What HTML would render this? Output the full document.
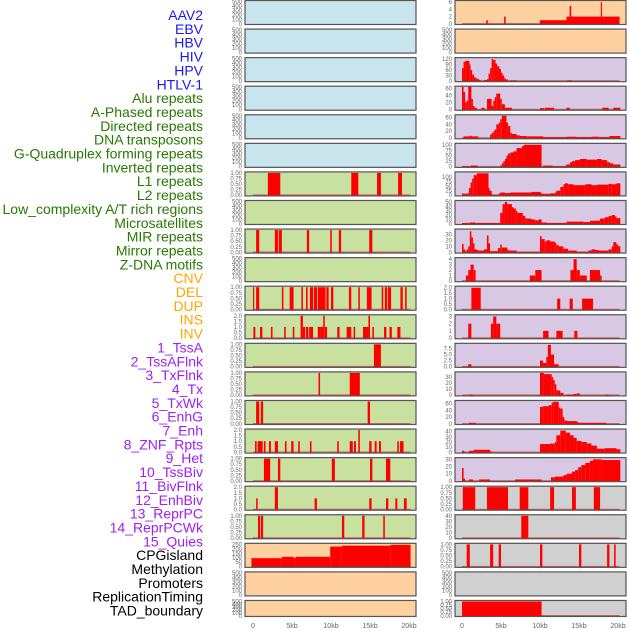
<!DOCTYPE html>
<html><head><meta charset="utf-8">
<style>
html,body{margin:0;padding:0;background:#fff;}
svg{display:block;font-family:"Liberation Sans",sans-serif;}
.lab{font-size:14px;text-anchor:end;}
.tk{font-size:6px;fill:#666;text-anchor:end;}
.xt{font-size:7px;fill:#666;text-anchor:middle;}
</style></head>
<body>
<svg id="chart" width="630" height="630" viewBox="0 0 630 630" xmlns="http://www.w3.org/2000/svg">
<g id="labels"></g>
<g id="panels"></g>
<g id="xaxis"></g>
</svg>
<script>
// ---- labels ----
const trackLabels = ["AAV2","EBV","HBV","HIV","HPV","HTLV-1","Alu repeats","A-Phased repeats","Directed repeats","DNA transposons","G-Quadruplex forming repeats","Inverted repeats","L1 repeats","L2 repeats","Low_complexity A/T rich regions","Microsatellites","MIR repeats","Mirror repeats","Z-DNA motifs","CNV","DEL","DUP","INS","INV","1_TssA","2_TssAFlnk","3_TxFlnk","4_Tx","5_TxWk","6_EnhG","7_Enh","8_ZNF_Rpts","9_Het","10_TssBiv","11_BivFlnk","12_EnhBiv","13_ReprPC","14_ReprPCWk","15_Quies","CPGisland","Methylation","Promoters","ReplicationTiming","TAD_boundary"];
const labelGroups = [6,13,5,15,5]; // counts per colour group
const labelColors = ["#1a1aee","#267a00","#ffa500","#a020f0","#000000"];

// ---- x axis ----
const xTickKb = [0,5,10,15,20];
const xTickLabels = ["0","5kb","10kb","15kb","20kb"];

// ---- tick label sets ----
const T500 = ["0","100","200","300","400","500"];
const T1 = ["0.00","0.25","0.50","0.75","1.00"];
const T2 = ["0.0","0.5","1.0","1.5","2.0"];
const leftTicks = [T500,T500,T500,T500,T500,T500,T1,T500,T1,T500,T1,T2,T1,T1,T1,T2,T1,T2,T1,["0","50","100","150","200","250"],T500,T500];
const rightTicks = [["0","2","4","6"],T500,["0","30","60","90","120"],["0","20","40","60"],["0","20","40","60"],["0","25","50","75","100"],["0","25","50","75","100"],["0","10","20","30","40","50"],["0","10","20","30"],["0","1","2","3","4"],T2,["0","1","2","3"],["0.0","2.5","5.0","7.5"],["0","10","20","30"],["0","20","40","60"],["0","10","20","30","40"],["0","10","20","30"],T1,["0","10","20","30","40"],T1,T500,T1];
const leftMax = [500,500,500,500,500,500,1,500,1,500,1,2,1,1,1,2,1,2,1,250,500,500];
const rightMax = [6.2,500,122,63,65,102,122,51,37,4.1,2.05,3.1,9.2,37,66,43,31,1,40,1,500,1];
const leftColors = ["#c8e4ec","#c8e4ec","#c8e4ec","#c8e4ec","#c8e4ec","#c8e4ec","#c8e0a0","#c8e0a0","#c8e0a0","#c8e0a0","#c8e0a0","#c8e0a0","#c8e0a0","#c8e0a0","#c8e0a0","#c8e0a0","#c8e0a0","#c8e0a0","#c8e0a0","#ffd0a0","#ffd0a0","#ffd0a0"];
const rightColors = ["#ffd0a0","#ffd0a0","#d8c8e4","#d8c8e4","#d8c8e4","#d8c8e4","#d8c8e4","#d8c8e4","#d8c8e4","#d8c8e4","#d8c8e4","#d8c8e4","#d8c8e4","#d8c8e4","#d8c8e4","#d8c8e4","#d8c8e4","#d0d0d0","#d0d0d0","#d0d0d0","#d0d0d0","#d0d0d0"];

// ---- left series: [startKb, endKb, value] ----
const L7 = [[1.9,3.5,1],[12.6,13.5,1],[15.9,16.4,1],[18.6,19.1,1]];
const L9 = [[0.4,0.8,1],[2.8,3.2,1],[3.3,3.7,1],[6.9,7.2,1],[9.9,10.1,1],[11.0,11.3,1],[14.9,15.3,1]];
const L11 = [[0,0.15,1],[0.4,0.8,1],[3.7,3.9,1],[4.7,5.2,1],[6.2,6.4,1],[6.8,7.0,1],[7.3,7.7,1],[7.8,8.2,1],[8.3,9.3,1],[9.4,9.7,1],[10.0,10.3,1],[12.3,12.6,1],[13.5,13.7,1],[14.6,15.2,1],[16.5,16.7,1],[16.9,17.2,1],[17.3,17.7,1],[18.9,19.2,1],[19.5,19.7,1]];
const L12 = [[0.05,0.3,1],[0.9,1.2,1],[2.3,2.5,1],[4.0,4.2,1],[5.1,5.3,1],[6.1,6.4,2],[6.4,6.7,1],[6.8,7.1,1],[7.2,7.7,1],[8.3,8.6,1],[8.6,9.0,1],[9.0,9.2,2],[9.2,9.5,1],[10.8,11.1,1],[12.0,12.6,1],[12.9,13.1,1],[14.1,14.8,1],[14.8,15.0,2],[15.3,15.5,1],[16.8,17.1,1],[17.5,17.8,1],[18.5,18.9,1]];
const L13 = [[15.5,16.4,1]];
const L14 = [[8.4,8.6,1],[12.4,13.7,1]];
const L15 = [[0.4,0.8,1],[1.0,1.3,1],[14.7,15.0,1]];
const L16 = [[0.26,0.47,1],[0.6,1.24,1],[1.4,1.6,1],[2.05,2.3,1],[2.8,3.2,1],[4.1,4.3,1],[4.9,5.2,1],[5.8,6.0,1],[7.3,7.5,1],[10.8,11.0,1],[12.4,12.8,1],[12.95,13.2,1],[13.5,13.7,2],[14.9,15.2,1],[15.6,15.85,1],[16.15,16.4,1],[18.5,18.7,1],[18.85,19.3,1]];
const L17 = [[1.4,2.2,1],[3.2,3.5,1],[10.1,10.5,1],[15.0,15.3,1],[17.05,17.6,1]];
const L18 = [[0.4,0.6,1],[2.8,3.2,2],[7.9,8.2,1],[14.9,15.2,1],[17.05,17.35,1],[18.25,18.5,1],[19.35,19.7,1]];
const L19 = [[0.64,0.9,1],[1.0,1.3,1],[11.4,11.7,1],[14.0,14.3,1],[16.7,16.9,1]];
const L20 = [[-0.2,3.7,95],[3.7,5.2,110],[5.2,5.5,100],[5.5,9.9,110],[9.9,11.4,225],[11.4,17.6,235],[17.6,20.2,245]];

// ---- right series ----
const R1 = [[3.1,3.3,1],[5.4,5.6,2],[10.0,13.4,1],[13.4,20.2,2],[13.8,14.0,5],[17.8,17.95,6]];
const R3 = [[0,0.2,70],[0.2,0.4,105],[0.4,0.95,110],[0.95,1.1,90],[1.1,1.3,60],[1.3,1.55,35],[1.55,1.75,20],[1.75,1.95,15],[1.95,2.2,10],[2.2,2.4,5],[2.8,3.2,5],[3.2,3.4,10],[3.4,3.6,40],[3.6,3.8,70],[3.8,4.0,120],[4.0,4.3,115],[4.3,4.5,95],[4.5,4.8,80],[4.8,5.0,65],[5.0,5.2,45],[5.2,5.4,30],[5.4,5.6,15],[5.6,5.9,8],[6.2,7.0,3],[13.5,14.1,3]];
const R4 = [[0,0.2,65],[0.2,0.4,50],[0.4,0.6,20],[0.6,0.8,25],[0.8,1.2,65],[1.2,1.4,30],[1.4,1.6,10],[1.6,1.9,5],[2.5,2.9,5],[3.2,3.8,30],[3.8,4.0,10],[4.0,4.2,25],[4.2,4.4,35],[4.4,4.9,45],[4.9,5.1,30],[5.1,5.5,15],[5.5,6.4,5],[10.0,10.5,4],[10.6,11.8,5],[13.4,13.8,5],[18.0,18.8,5],[19.4,20.3,5]];
const R5 = [[0.2,2.1,5],[1.0,1.2,7],[3.6,3.8,10],[3.8,4.0,15],[4.0,4.2,20],[4.2,4.4,25],[4.4,4.7,40],[4.7,4.9,45],[4.9,5.1,55],[5.1,5.7,65],[5.7,5.9,45],[5.9,6.2,35],[6.2,6.4,15],[6.4,7.0,12],[7.0,7.4,8],[7.4,8.3,6],[8.3,10.4,5],[10.4,13.4,3],[13.4,14.7,4],[14.7,16.6,3],[16.6,17.5,4],[17.5,18.9,3],[18.9,20.3,6]];
const R6 = [[0,1.0,2],[1.1,2.0,5],[4.9,5.1,5],[5.1,5.3,15],[5.3,5.5,25],[5.5,5.7,35],[5.7,5.9,50],[5.9,6.2,60],[6.2,6.6,65],[6.6,7.0,70],[7.0,7.7,85],[7.7,7.95,95],[7.95,10.2,100],[10.4,11.6,5],[11.6,13.2,2],[13.2,13.4,5],[13.4,13.85,10],[13.85,14.1,20],[14.1,14.5,25],[14.5,15.1,30],[15.1,16.0,35],[16.0,17.3,32],[17.3,17.9,35],[17.9,18.6,30],[18.6,19.0,20],[19.0,19.4,15],[19.4,20.3,10]];
const R7 = [[0,0.2,10],[0.2,0.6,8],[0.6,0.9,10],[0.9,1.1,40],[1.1,1.3,70],[1.3,1.5,90],[1.5,1.9,110],[1.9,3.4,120],[3.4,3.5,40],[3.5,3.8,25],[3.8,4.0,5],[4.0,4.7,2],[4.7,4.9,10],[4.9,5.5,15],[5.5,6.2,12],[6.2,8.9,15],[8.9,10.0,18],[10.0,10.2,15],[10.2,11.3,8],[11.3,11.9,10],[11.9,12.1,15],[12.1,12.6,25],[12.6,13.0,45],[13.0,13.2,60],[13.2,13.6,65],[13.6,14.3,60],[14.3,15.8,55],[15.8,16.6,60],[16.6,17.3,55],[17.3,18.8,58],[18.8,19.2,62],[19.2,19.8,60],[19.8,20.3,65]];
const R8 = [[0,1.0,2],[1.0,1.7,3],[1.7,4.9,2],[4.9,5.2,25],[5.2,5.5,45],[5.5,5.8,50],[5.8,6.4,45],[6.4,6.6,38],[6.6,6.9,35],[6.9,7.1,30],[7.1,7.8,25],[7.8,8.1,18],[8.1,8.3,13],[8.3,8.9,12],[8.9,9.4,10],[9.4,9.8,8],[9.8,10.2,10],[10.2,10.9,3],[10.9,13.4,2],[13.4,15.6,5],[15.6,16.4,4],[16.4,17.7,7],[17.7,18.3,12],[18.3,18.8,15],[18.8,19.2,18],[19.2,19.6,20],[19.6,19.8,17],[19.8,20.3,13]];
const R9 = [[0,0.2,14],[0.2,0.4,5],[0.4,0.6,2],[0.6,0.8,5],[0.8,1.0,10],[1.0,1.2,35],[1.2,1.4,25],[1.4,1.6,15],[1.6,1.9,5],[1.9,2.1,4],[2.1,2.8,3],[2.8,3.2,5],[3.2,3.4,28],[3.4,3.6,15],[3.6,4.6,2],[4.6,4.9,7],[4.9,5.1,13],[5.1,5.8,8],[5.8,5.9,5],[5.9,7.0,3],[7.0,10.0,1],[10.0,10.2,27],[10.2,10.6,22],[10.6,10.8,18],[10.8,11.3,20],[11.3,11.9,18],[11.9,12.1,16],[12.1,12.4,12],[12.4,13.0,10],[13.0,13.6,6],[13.6,14.7,3],[14.7,16.2,1],[16.2,16.6,3],[16.6,17.05,5],[17.05,17.5,4],[17.5,18.8,3],[18.8,19.2,5],[19.2,19.4,10],[19.4,19.8,17],[19.8,20.05,13],[20.05,20.3,10]];
const R10 = [[0.5,0.8,1],[0.8,1.1,2],[1.1,1.5,3],[1.5,1.75,2],[8.7,9.4,1],[9.4,10.2,2],[13.9,14.3,2],[14.3,14.7,4],[14.7,15.1,2],[15.1,16.0,1],[16.4,17.7,2],[17.7,17.9,1]];
const R11 = [[1.2,2.4,2],[12.2,12.6,1],[13.8,14.2,1],[15.4,16.8,1]];
const R12 = [[0.8,1.2,2],[3.7,4.0,2],[4.0,4.4,3],[4.4,4.9,2],[10.4,11.1,1],[12.1,12.9,1],[14.4,14.8,1]];
const R13 = [[0.8,1.2,1],[10.0,10.4,2.5],[10.4,10.8,1.5],[10.8,11.0,4],[11.0,11.4,9],[11.4,11.8,5],[11.8,12.4,1]];
const R14 = [[0.9,1.4,1],[10.0,10.5,37],[10.5,11.5,35],[11.5,11.7,30],[11.7,11.9,25],[11.9,12.1,18],[12.1,12.6,8],[12.6,13.0,4],[13.4,14.3,1],[14.3,14.7,2],[14.7,15.1,3],[18.4,18.8,1]];
const R15 = [[0.9,1.8,3],[10.0,10.4,50],[10.4,11.1,52],[11.1,11.5,55],[11.5,11.7,63],[11.7,12.4,65],[12.4,12.6,48],[12.6,12.9,45],[12.9,13.1,20],[13.1,13.4,10],[13.4,14.7,8],[14.7,14.9,6],[14.9,18.5,3]];
const R16 = [[0,0.3,3],[0.9,1.5,3],[1.5,3.6,5],[3.6,3.8,2],[10.0,11.3,16],[11.3,11.9,17],[11.9,12.1,20],[12.1,12.6,33],[12.6,13.3,42],[13.3,13.85,38],[13.85,14.3,33],[14.3,14.7,28],[14.7,15.3,22],[15.3,16.0,20],[16.0,16.6,17],[16.6,17.3,13],[17.3,18.3,7],[18.3,19.8,8],[19.8,20.3,6]];
const R17 = [[0,0.2,18],[0.2,0.4,3],[0.9,1.4,2],[2.2,3.6,2],[6.8,10.2,2],[11.4,11.9,5],[11.9,13.0,6],[13.0,13.4,8],[13.4,14.1,10],[14.1,14.5,13],[14.5,14.9,15],[14.9,15.3,19],[15.3,15.8,22],[15.8,16.4,25],[16.4,16.8,28],[16.8,17.9,30],[17.9,20.3,29]];
const R18 = [[0.1,1.7,1],[3.2,5.9,1],[7.4,8.5,1],[11.3,11.8,1],[14.1,14.6,1],[16.9,17.7,1]];
const R19 = [[7.6,8.5,40]];
const R20 = [[0.6,1.0,1],[3.6,4.0,1],[4.7,5.0,1],[10.0,10.3,1],[15.0,15.3,1],[18.6,18.9,1],[19.5,19.7,1]];
const R22 = [[0,10.2,1]];

const leftSeries = [null,null,null,null,null,null,L7,null,L9,null,L11,L12,L13,L14,L15,L16,L17,L18,L19,L20,null,null];
const rightSeries = [R1,null,R3,R4,R5,R6,R7,R8,R9,R10,R11,R12,R13,R14,R15,R16,R17,R18,R19,R20,null,R22];

const NS = "http://www.w3.org/2000/svg";
function mk(tag, attrs, parent){ const e=document.createElementNS(NS,tag); for(const k in attrs) e.setAttribute(k,attrs[k]); parent.appendChild(e); return e; }

// labels
const lg = document.getElementById("labels");
let li = 0;
labelGroups.forEach((n,gi)=>{
  for(let j=0;j<n;j++){
    const t = mk("text",{class:"lab",x:203,y:(20+li*13.85).toFixed(1),fill:labelColors[gi]},lg);
    t.textContent = trackLabels[li];
    
    
    li++;
  }
});

const pg = document.getElementById("panels");
const colX = [[245,416,253],[455,626,462]];
const pxPerKb = 7.8;
function rowTop(i){ return i*28.57; }
function rowH(i){ return i===21 ? 17 : 25; }

function drawPanel(col, i, color, ticks, ymax, series){
  const [x0,x1,origin] = colX[col];
  const top = rowTop(i), h = rowH(i);
  const g = mk("g",{},pg);
  
  
  const yTop = top+1.5, yBot = top+h-1.2;
  const yScale = v => yBot - (v/ymax)*(yBot-yTop);
  const xScale = kb => origin + kb*pxPerKb;
  mk("rect",{x:x0,y:top,width:x1-x0,height:h,fill:color},g);
  if(series){
    const cid = "c"+col+"_"+i;
    const cp = mk("clipPath",{id:cid},g);
    mk("rect",{x:x0,y:top,width:x1-x0,height:h},cp);
    const bg = mk("g",{"clip-path":"url(#"+cid+")"},g);
    mk("line",{x1:xScale(0),x2:xScale(20.2),y1:yBot,y2:yBot,stroke:"#d04848","stroke-width":1.6,"stroke-opacity":0.8},bg);
    series.forEach(s=>{
      const r = mk("rect",{x:xScale(s[0]).toFixed(2),width:Math.max(1,(s[1]-s[0])*pxPerKb).toFixed(2),y:yScale(s[2]).toFixed(2),height:(yBot-yScale(s[2])+0.5).toFixed(2),fill:"#ff0000"},bg);
      
      
    });
  }
  mk("rect",{x:x0,y:top+0.5,width:x1-x0,height:h-1,fill:"none",stroke:"#555","stroke-width":1.2},g);
  ticks.forEach(t=>{
    const v = parseFloat(t);
    const tt = mk("text",{class:"tk",x:x0-3,y:(yScale(v)+2).toFixed(1)},g);
    tt.textContent = t;
    
    
  });
}
for(let i=0;i<22;i++){
  drawPanel(0,i,leftColors[i],leftTicks[i],leftMax[i],leftSeries[i]);
  drawPanel(1,i,rightColors[i],rightTicks[i],rightMax[i],rightSeries[i]);
}

const xg = document.getElementById("xaxis");
[0,1].forEach(col=>{
  xTickKb.forEach((kb,k)=>{
    const t = mk("text",{class:"xt",x:(colX[col][2]+kb*pxPerKb).toFixed(1),y:628},xg);
    t.textContent = xTickLabels[k];
    
    
  });
});
</script>
</body></html>
